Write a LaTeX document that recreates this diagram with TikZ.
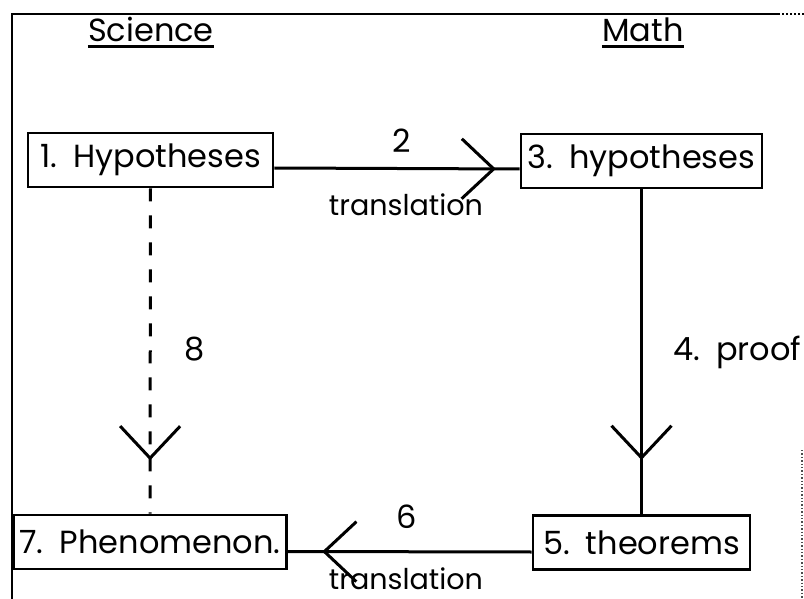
\documentclass[tikz,border=0pt]{standalone}
\usepackage{fontspec}
\setmainfont{Poppins}
\usetikzlibrary{arrows.meta, positioning, decorations.markings}

\begin{document}
\begin{tikzpicture}[
  x=0.5pt, y=-0.5pt,
  font=\fontsize{16}{19}\selectfont,
  box/.style={
    rectangle, draw, line width=1.3pt,
    minimum height=27pt, inner xsep=3pt, text centered
  },
  lbl/.style={inner sep=0pt, anchor=base},
  small/.style={font=\fontsize{14.3}{17}\selectfont},
  arr/.style={line width=1.5pt, postaction={decorate},
    decoration={markings, mark=at position #1 with
      {\arrow{Straight Barb[length=16pt, width=30pt]}}}},
  frame/.style={line width=1pt}
]
\useasboundingbox (0,0) rectangle (804,599);

% frame of the scan
\draw[frame] (12,599) -- (12,14) -- (778,14);
\draw[frame, densely dotted] (778,14) -- (804,14);
\draw[densely dotted, line width=0.7pt, black!70] (802,450) -- (802,599);

% column headings
\node[lbl] (sci) at (151,42) {Science};
\node[lbl] (mat) at (643,42) {Math};
\draw[line width=1.5pt] ([yshift=-2.5pt]sci.base west) -- ([yshift=-2.5pt]sci.base east);
\draw[line width=1.5pt] ([yshift=-2.5pt]mat.base west) -- ([yshift=-2.5pt]mat.base east);

% boxes
\node[box, minimum width=122.5pt] (n1) at (150.5,160) {1.\enspace Hypotheses};
\node[box, minimum width=120.5pt] (n3) at (641.5,161) {3.\enspace hypotheses};
\node[box, minimum width=108.5pt] (n5) at (641.5,542.5) {5.\enspace theorems};
\node[box, minimum width=135pt] (n7) at (150,542) {7.\enspace Phenomenon.};

% connectors
\draw[arr=0.903] ([yshift=-4pt]n1.east) -- ([yshift=-4pt]n3.west);
\draw[arr=0.833] (n3.south) -- (n5.north);
\draw[arr=0.859] ([yshift=-4.75pt]n5.west) -- ([yshift=-4.75pt]n7.east);
\draw[arr=0.836, dash pattern=on 6.5pt off 7pt] (n1.south) -- (n7.north);

% labels
\node[lbl] (l2) at (402,153) {2};
\node[lbl, small] (tr2) at (406,216) {translation};
\node[lbl, anchor=base west] (l4) at (673,360) {4.\enspace proof};
\node[lbl] (l6) at (407,528) {6};
\node[lbl, small] (tr6) at (406,589) {translation};
\node[lbl] (l8) at (195,360) {8};

\end{tikzpicture}
\end{document}
